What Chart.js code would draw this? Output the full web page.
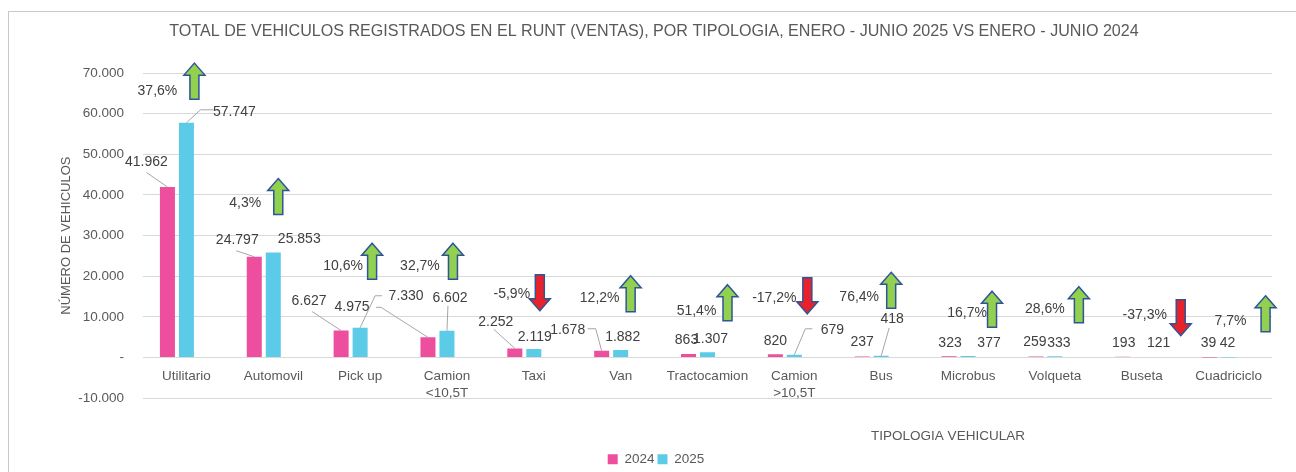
<!DOCTYPE html>
<html>
<head>
<meta charset="utf-8">
<script src="https://cdn.jsdelivr.net/npm/chart.js@4.4.1/dist/chart.umd.min.js"></script>
<style>
body{margin:0;background:#fff}
#wrap{position:relative;width:1296px;height:472px}
#frame{position:absolute;left:8px;top:11px;right:0;bottom:0;border-left:1px solid #C9C9C9;border-top:1px solid #C9C9C9}
#chart{position:absolute;left:0;top:0}
</style>
</head>
<body>
<div id="wrap">
<div id="frame"></div>
<canvas id="chart" width="1296" height="472"></canvas>
</div>
<script>
// DATA
const categories = ["Utilitario","Automovil","Pick up",["Camion","<10,5T"],"Taxi","Van","Tractocamion",["Camion",">10,5T"],"Bus","Microbus","Volqueta","Buseta","Cuadriciclo"];
const sales2024 = [41962,24797,6627,4975,2252,1678,863,820,237,323,259,193,39];
const sales2025 = [57747,25853,7330,6602,2119,1882,1307,679,418,377,333,121,42];
const yTicks = {min:-10000, max:70000, step:10000};

const chartTitle = "TOTAL DE VEHICULOS REGISTRADOS EN EL RUNT (VENTAS), POR TIPOLOGIA, ENERO - JUNIO 2025 VS ENERO - JUNIO 2024";
const xTitle = "TIPOLOGIA VEHICULAR";
const yTitle = "NÚMERO DE VEHICULOS";

// label placement (px offset from bar top, optional leader points relative to label)
const place2024 = [
[-21,-24.5,[[0,10]]],
[-17,-17,[[-1,11]]],
[-32,-29,[[3,10]]],
[-76,-30,[[24,0],[29,0]]],
[-19,-26,[[-2,7]]],
[-34,-21,[[20,-1],[28,-1]]],
[-2,-14],[0,-13],[0,-14],[1,-13],[-1,-14],[1,-14],[-1,-14]
];
const place2025 = [
[48,-11,[[-21,-2],[-34,-2]]],
[26,-13],
[46,-32,[[-24,0],[-31,0]]],
[3,-33,[[-2,8]]],
[1,-12],[2,-13],[3,-13],
[38,-25,[[-20,-1],[-27,-1]]],
[11,-37,[[-3,9]]],
[21,-13],[4,-13],[17,-14],[-1,-14]
];
// arrows: [px from category centre, arrow centre value, label px, label value]
const arrowPlace = [
[8,68000,-29,65500],[5,39600,-28,38100],[12,23700,-17,22400],[6,23700,-27,22400],
[6,15950,-22,15700],[10,15700,-21,14700],[20,13500,-11,11500],[13,15200,-20,14500],
[10,16550,-22,14950],[24,11900,-1,11000],[24,13000,-10,12000],[39,9800,3,10500],[37,10750,2,9050]
];

const FONT = '"Liberation Sans", Arial, sans-serif';
Chart.defaults.font.family = FONT;
Chart.defaults.color = "#595959";

function fmt(v){
return String(Math.abs(v)).replace(/\B(?=(\d{3})+(?!\d))/g,".");
}

function drawArrow(ctx, cx, cy, up){
const h = 36, hw = 10.5, sw = 4.5, hh = 12;
const s = up ? 1 : -1;
const tip = cy - s*h/2, base = cy + s*h/2, neck = tip + s*hh;
ctx.beginPath();
ctx.moveTo(cx, tip);
ctx.lineTo(cx+hw, neck);
ctx.lineTo(cx+sw, neck);
ctx.lineTo(cx+sw, base);
ctx.lineTo(cx-sw, base);
ctx.lineTo(cx-sw, neck);
ctx.lineTo(cx-hw, neck);
ctx.closePath();
ctx.fillStyle = up ? "#92D050" : "#E8212A";
ctx.fill();
ctx.lineWidth = 1.5;
ctx.strokeStyle = "#2F5597";
ctx.stroke();
}

const notes = {
id:"notes",
afterDatasetsDraw(chart){
const {ctx, scales:{x,y}} = chart;
ctx.save();
ctx.font = "14px "+FONT;
ctx.textAlign = "center";
ctx.textBaseline = "middle";
[[0,sales2024,place2024],[1,sales2025,place2025]].forEach(([di,vals,place]) => {
chart.getDatasetMeta(di).data.forEach((bar,i) => {
const p = place[i];
const lx = bar.x + p[0], ly = bar.y + p[1];
if(p[2]){
ctx.beginPath();
ctx.moveTo(lx+p[2][0][0], ly+p[2][0][1]);
p[2].slice(1).forEach(q => ctx.lineTo(lx+q[0], ly+q[1]));
ctx.lineTo(bar.x, bar.y);
ctx.strokeStyle = "#A6A6A6";
ctx.lineWidth = 1;
ctx.stroke();
}
ctx.fillStyle = "#404040";
ctx.fillText(fmt(vals[i]), lx, ly);
});
});
categories.forEach((c,i) => {
const pct = (sales2025[i]/sales2024[i]-1)*100;
const cx = x.getPixelForValue(i);
const a = arrowPlace[i];
drawArrow(ctx, cx+a[0], y.getPixelForValue(a[1]), pct >= 0);
ctx.fillStyle = "#404040";
ctx.fillText(pct.toFixed(1).replace(".",",")+"%", cx+a[2], y.getPixelForValue(a[3]));
});
ctx.restore();
},
afterDraw(chart){
const ctx = chart.ctx;
ctx.save();
ctx.fillStyle = "#595959";
ctx.textAlign = "center";
ctx.textBaseline = "middle";
ctx.font = "16.1px "+FONT;
ctx.fillText(chartTitle, 654, 31.5);
ctx.font = "13.5px "+FONT;
ctx.fillText(xTitle, 948, 436);
ctx.restore();
}
};

const ctx = document.getElementById("chart").getContext("2d");
const chart = new Chart(ctx,{
type:"bar",
data:{
labels:categories,
datasets:[
{label:"2024",data:sales2024,backgroundColor:"#EE4E9E"},
{label:"2025",data:sales2025,backgroundColor:"#5BCBE8"},
{label:"",data:categories.map(() => null),backgroundColor:"rgba(0,0,0,0)"}
]
},
options:{
responsive:false,
animation:false,
categoryPercentage:0.656,
barPercentage:0.79,
layout:{padding:{left:40,right:24,top:73,bottom:-4}},
plugins:{
title:{display:false},
tooltip:{enabled:false},
legend:{
position:"bottom",
// empty legend title only reserves the room of the x labels under the plot
title:{display:true,text:"",font:{size:10},padding:{top:39.3,bottom:0}},
labels:{
boxWidth:10,boxHeight:10,padding:3,
font:{size:13.5},color:"#595959",
filter:item => item.text !== ""
}
}
},
scales:{
x:{
position:{y:0},
grid:{display:false,drawTicks:false},
border:{display:false},
ticks:{padding:11,font:{size:13.5},color:"#595959",maxRotation:0,autoSkip:false},
afterFit:s => { s.height = 47; }
},
y:{
min:yTicks.min,max:yTicks.max,
grid:{color:"#D9D9D9",drawTicks:false},
border:{display:false},
ticks:{stepSize:yTicks.step,padding:19,font:{size:13.5},color:"#595959",
callback:v => v === 0 ? "-" : (v < 0 ? "-" : "") + fmt(v)},
title:{display:true,text:yTitle,font:{size:13},color:"#595959",padding:{top:19,bottom:0}},
afterFit:s => { s.width = 103; }
}
}
},
plugins:[notes]
});
</script>
</body>
</html>
